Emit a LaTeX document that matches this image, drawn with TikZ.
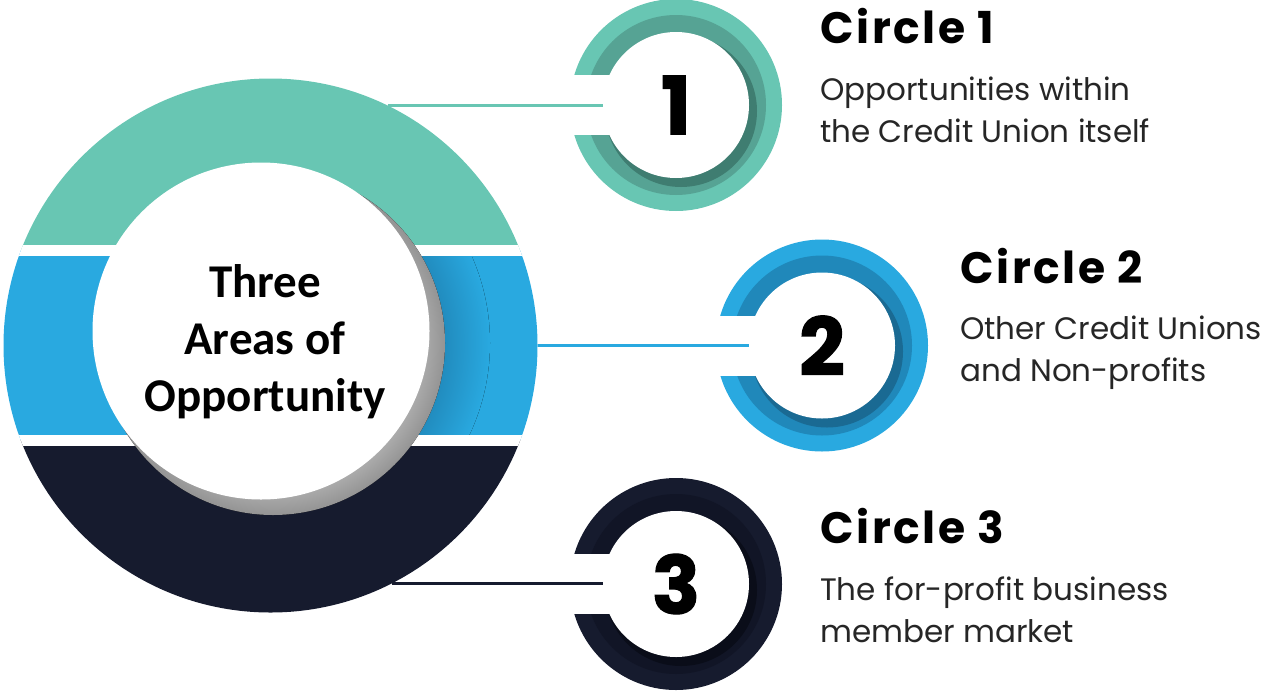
\documentclass[tikz,border=0pt]{standalone}
\usepackage{fontspec}
\newfontfamily\hubfont{Carlito}
\newfontfamily\headfont[LetterSpace=6]{Poppins}
\newfontfamily\bodyfont{Poppins}
\newfontfamily\digitfont[BoldFeatures={FakeBold=1.5}]{Poppins}
\usetikzlibrary{calc}

\definecolor{tealc}{HTML}{68C6B3}
\definecolor{tealdk}{HTML}{56A394}
\definecolor{tealsh}{HTML}{3F7D71}
\definecolor{bluec}{HTML}{29A9E0}
\definecolor{bluedk}{HTML}{2088BA}
\definecolor{bluesh}{HTML}{1A6A93}
\definecolor{navyc}{HTML}{161B2E}
\definecolor{navydk}{HTML}{111526}
\definecolor{navysh}{HTML}{0A0D19}

\pgfdeclareradialshading{hubshadow}{\pgfpoint{0bp}{0bp}}{color(0bp)=(black!28); color(21bp)=(black!30); color(25bp)=(black!42); color(50bp)=(black!42)}
\pgfdeclareradialshading{bandshadow}{\pgfpoint{0bp}{0bp}}{color(0bp)=(bluedk); color(19bp)=(bluedk); color(25bp)=(bluec); color(50bp)=(bluec)}

\tikzset{
  hub/.style={circle, fill=white, minimum size=337pt, inner sep=0pt},
  hubtext/.style={font=\hubfont\bfseries\fontsize{47}{57}\selectfont, align=center},
  numbox/.style={circle, fill=white, minimum size=146pt, inner sep=0pt,
    font=\digitfont\bfseries\fontsize{80}{80}\selectfont},
  heading/.style={anchor=base west, inner sep=0pt, font=\headfont\bfseries\fontsize{44}{50}\selectfont},
  desc/.style={anchor=base west, inner sep=0pt, align=left, text=black!85,
    font=\bodyfont\fontsize{31}{42}\selectfont},
  link/.style={line width=3pt}
}

\begin{document}
\begin{tikzpicture}[x=1pt, y=-1pt]
  \useasboundingbox (0,0) rectangle (1273,691);

  % big ring in three bands
  \node[circle, minimum size=534pt, inner sep=0pt] (big) at (270.5,345.5) {};
  \begin{scope}
    \clip (big.center) circle (267);
    \fill[tealc] (0,70) rectangle (540,250);
    \fill[bluec] (0,250) rectangle (540,440);
    \fill[navyc] (0,440) rectangle (540,620);
    \begin{scope}
      \clip (300,256) rectangle (540,435);
      \fill[shading=bandshadow] (275,343) circle (215);
    \end{scope}
    \fill[white] (0,245) rectangle (540,256);
    \fill[white] (0,435) rectangle (540,446);
  \end{scope}

  \fill[shading=hubshadow] (273,343) circle (172);
  \node[hub] (hub) at (261,331) {};
  \node[hubtext] (title) at (265,342) {Three\\Areas of\\Opportunity};

  % numbered circles
  \foreach \i/\cx/\cy/\lc/\dc/\sc in {1/676/105/tealc/tealdk/tealsh,
      2/822/345.5/bluec/bluedk/bluesh, 3/676/584/navyc/navydk/navysh} {
    \fill[\lc] (\cx,\cy) circle (106);
    \fill[\dc] (\cx,\cy) circle (90);
    \fill[\sc] (\cx+5,\cy+6) circle (76);
    \node[numbox] (n\i) at (\cx,\cy) {\i};
    \fill[white] (\cx-112,\cy-30) rectangle (\cx-65,\cy+30);
  }

  \draw[link, tealc] (big.64.25) -- (big.64.25 -| n1.west);
  \draw[link, bluec] (big.east) -- (big.east -| n2.west);
  \draw[link, navyc] (big.-63.3) -- (big.-63.3 -| n3.west);

  \node[heading] (head1) at (820,43) {Circle 1};
  \node[desc] (desc1) at (820,142) {Opportunities within\\the Credit Union itself};
  \node[heading] (head2) at (960,283) {Circle 2};
  \node[desc] (desc2) at (960,381) {Other Credit Unions\\and Non-profits};
  \node[heading] (head3) at (820,543) {Circle 3};
  \node[desc] (desc3) at (820,642) {The for-profit business\\member market};
\end{tikzpicture}
\end{document}
